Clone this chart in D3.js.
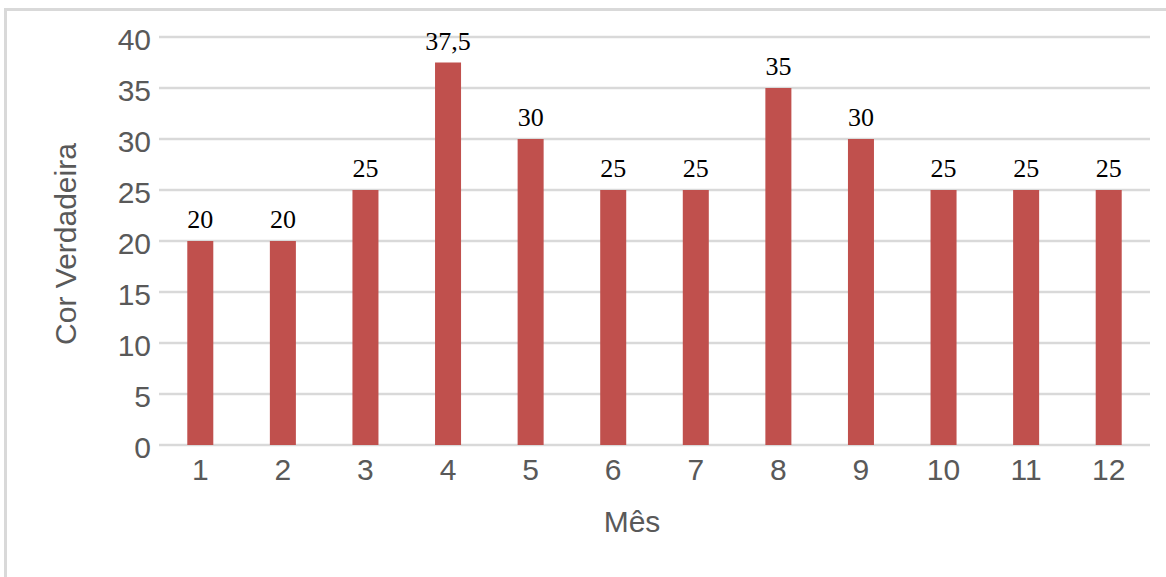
<!DOCTYPE html>
<html>
<head>
<meta charset="utf-8">
<script src="https://cdn.jsdelivr.net/npm/d3@7"></script>
<style>
  html, body { margin: 0; padding: 0; background: #fff; }
  svg { display: block; }
</style>
</head>
<body>
<svg id="chart" width="1166" height="577"></svg>
<script>
// Monthly "Cor Verdadeira" readings
const months = ["1", "2", "3", "4", "5", "6", "7", "8", "9", "10", "11", "12"];
const values = [20, 20, 25, 37.5, 30, 25, 25, 35, 30, 25, 25, 25];
const yTicks = [0, 5, 10, 15, 20, 25, 30, 35, 40];
const yTitle = "Cor Verdadeira";
const xTitle = "Mês";

const svg = d3.select("#chart");
const W = 1166, H = 577;
const plot = { left: 159, right: 1150, top: 37, bottom: 445 };

const grid = "#d9d9d9";
const textGray = "#595959";
const barColor = "#C0504D";
const sans = "'Liberation Sans', Arial, sans-serif";
const serif = "'Liberation Serif', 'Times New Roman', serif";

// Chart frame (top and left edges visible)
svg.append("line").attr("x1", 4).attr("x2", W).attr("y1", 9.5).attr("y2", 9.5)
  .attr("stroke", grid).attr("stroke-width", 3);
svg.append("line").attr("x1", 5.5).attr("x2", 5.5).attr("y1", 8).attr("y2", H)
  .attr("stroke", grid).attr("stroke-width", 3);

const x = d3.scaleBand().domain(months).range([plot.left, plot.right])
  .paddingInner(0.685).paddingOuter(0.3425);
const y = d3.scaleLinear().domain([0, 40]).range([plot.bottom, plot.top]);

// Horizontal gridlines
svg.append("g").selectAll("line").data(yTicks).join("line")
  .attr("x1", plot.left).attr("x2", plot.right)
  .attr("y1", d => y(d)).attr("y2", d => y(d))
  .attr("stroke", grid).attr("stroke-width", 2.5);

// Y axis labels
const yAxis = svg.append("g").attr("transform", `translate(${plot.left},0)`)
  .call(d3.axisLeft(y).tickValues(yTicks).tickSize(0).tickPadding(8).tickFormat(d3.format("d")));
yAxis.select(".domain").remove();
yAxis.selectAll("text").attr("font-family", sans).attr("font-size", 30)
  .attr("fill", textGray).attr("dy", "0.4em");

// X axis labels
const xAxis = svg.append("g").attr("transform", `translate(0,${plot.bottom})`)
  .call(d3.axisBottom(x).tickSize(0).tickPadding(14));
xAxis.select(".domain").remove();
xAxis.selectAll("text").attr("font-family", sans).attr("font-size", 30)
  .attr("fill", textGray);

// Bars
svg.append("g").selectAll("rect").data(values).join("rect")
  .attr("x", (d, i) => x(months[i]))
  .attr("width", x.bandwidth())
  .attr("y", d => y(d))
  .attr("height", d => y(0) - y(d))
  .attr("fill", barColor);

// Value labels
const fmt = d => String(d).replace(".", ",");
svg.append("g").selectAll("text").data(values).join("text")
  .attr("x", (d, i) => x(months[i]) + x.bandwidth() / 2)
  .attr("y", d => y(d) - 13)
  .attr("text-anchor", "middle")
  .attr("font-family", serif).attr("font-size", 26)
  .attr("fill", "#000")
  .text(fmt);

// Axis titles
svg.append("text")
  .attr("transform", `translate(76,${(plot.top + plot.bottom) / 2 + 3}) rotate(-90)`)
  .attr("text-anchor", "middle")
  .attr("font-family", sans).attr("font-size", 30).attr("fill", textGray)
  .text(yTitle);
svg.append("text")
  .attr("x", 632).attr("y", 532)
  .attr("text-anchor", "middle")
  .attr("font-family", sans).attr("font-size", 30).attr("fill", textGray)
  .text(xTitle);
</script>
</body>
</html>
